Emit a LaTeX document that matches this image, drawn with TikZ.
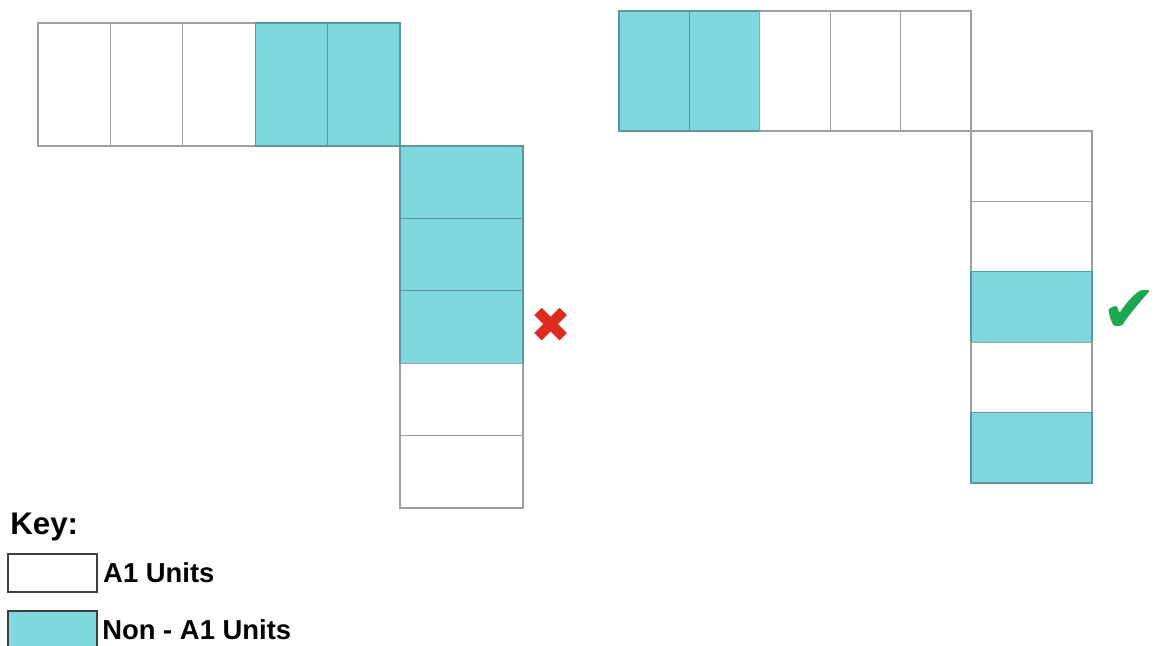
\documentclass[tikz,border=0pt]{standalone}
\usepackage{fontspec}
\setmainfont{Liberation Sans}
\newfontfamily\symfont{DejaVu Sans}
\usetikzlibrary{positioning}
\definecolor{unitfill}{RGB}{128,216,222}
\definecolor{unitline}{RGB}{92,150,158}
\definecolor{crossred}{RGB}{222,42,32}
\definecolor{tickgreen}{RGB}{28,168,78}
\begin{document}
\begin{tikzpicture}[
    wunit/.style={draw=gray!75,fill=white,line width=0.7pt,
        inner sep=0pt,outer sep=0pt},
    nunit/.style={draw=unitline,fill=unitfill,line width=0.7pt,
        inner sep=0pt,outer sep=0pt},
    keybox/.style={draw=gray!50!black,line width=1pt,
        minimum width=1.78cm,minimum height=0.76cm,inner sep=0pt},
    keytext/.style={font=\bfseries\fontsize{15.6}{17}\selectfont,inner sep=0pt}
]
    \useasboundingbox (0,0) rectangle (23.42,-12.9);
    \clip (0,0) rectangle (23.42,-12.9);

    % left layout
    \foreach \i/\s in {0/wunit,1/wunit,2/wunit,3/nunit,4/nunit}
        \node[\s,minimum width=1.448cm,minimum height=2.46cm]
            (lt\i) at ({0.76+1.448*\i+0.724},-1.69) {};
    \foreach \i/\s in {0/nunit,1/nunit,2/nunit,3/wunit,4/wunit}
        \node[\s,minimum width=2.46cm,minimum height=1.448cm]
            (lv\i) at (9.23,{-2.92-1.448*\i-0.724}) {};
    \node[text=crossred,font=\symfont\fontsize{28}{28}\selectfont,inner sep=0pt]
        (cross) at (11.02,-6.5) {✖};

    % right layout
    \foreach \i/\s in {0/nunit,1/nunit,2/wunit,3/wunit,4/wunit}
        \node[\s,minimum width=1.408cm,minimum height=2.4cm]
            (rt\i) at ({12.38+1.408*\i+0.704},-1.42) {};
    \foreach \i/\s in {0/wunit,1/wunit,2/nunit,3/wunit,4/nunit}
        \node[\s,minimum width=2.42cm,minimum height=1.408cm]
            (rv\i) at (20.63,{-2.62-1.408*\i-0.704}) {};
    \node[text=tickgreen,font=\symfont\fontsize{38}{38}\selectfont,inner sep=0pt]
        (tick) at (22.58,-6.22) {✔};

    % key
    \node[anchor=west,inner sep=0pt,font=\bfseries\fontsize{17.8}{20}\selectfont]
        (key) at (0.2,-10.54) {Key:};
    \node[keybox,fill=white] (keyw) at (1.05,-11.46) {};
    \node[keybox,fill=unitfill,minimum height=0.9cm] (keyn) at (1.05,-12.67) {};
    \node[keytext,right=0.1cm of keyw] (keywt) {A1 Units};
    \node[keytext,anchor=west] (keynt) at (2.04,-12.6) {Non - A1 Units};
\end{tikzpicture}
\end{document}
